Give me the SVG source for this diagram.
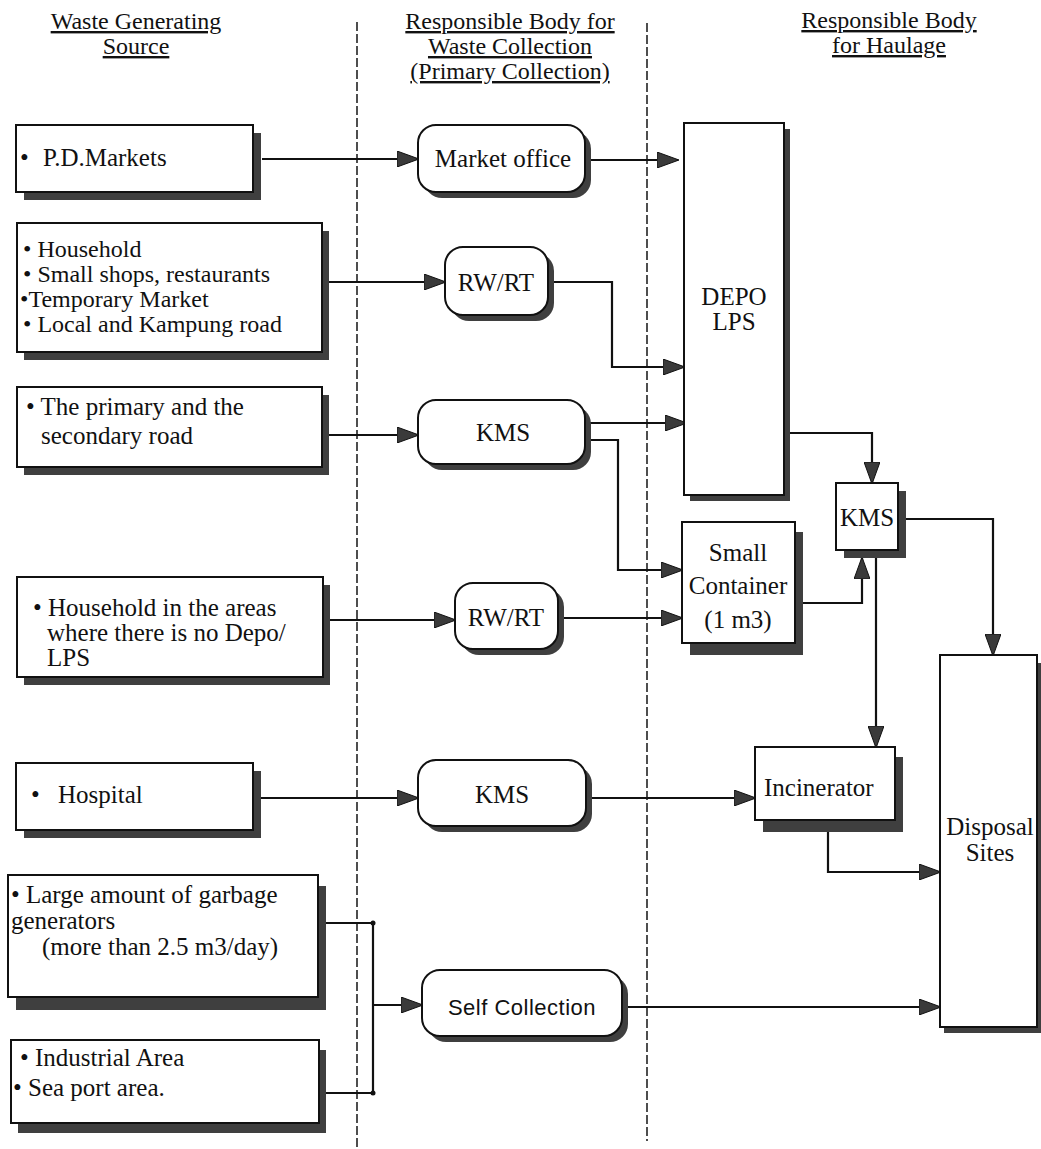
<svg xmlns="http://www.w3.org/2000/svg" width="1041" height="1149" viewBox="0 0 1041 1149">
<defs>
<style>
.t{font-family:"Liberation Serif","Times New Roman",serif;font-size:25px;fill:#111}
.s24{font-size:24px}
.h{font-family:"Liberation Serif","Times New Roman",serif;font-size:24px;fill:#111;text-decoration:underline;text-anchor:middle}
.c{text-anchor:middle}
.box{fill:#fff;stroke:#111;stroke-width:2}
.sh{fill:#3f3f3f}
.ln{fill:none;stroke:#111;stroke-width:2.2}
.dv{stroke:#222;stroke-width:1.6;stroke-dasharray:9 3;fill:none}
.sans{font-family:"Liberation Sans",Arial,sans-serif;font-size:22px;fill:#111;letter-spacing:0.5px}
.dot{fill:#111}
</style>
<marker id="ah" viewBox="0 0 22 16" markerWidth="22" markerHeight="16" refX="21" refY="8" orient="auto" markerUnits="userSpaceOnUse"><path d="M0,0 L22,8 L0,16 z" fill="#3a3a3a" stroke="#111" stroke-width="1"/></marker>
</defs>
<rect width="1041" height="1149" fill="#fff"/>

<g id="headers">
<text class="h" x="136" y="29">Waste Generating</text>
<text class="h" x="136" y="54">Source</text>
<text class="h" x="510" y="29">Responsible Body for</text>
<text class="h" x="510" y="54">Waste Collection</text>
<text class="h" x="510" y="79">(Primary Collection)</text>
<text class="h" x="889" y="28">Responsible Body</text>
<text class="h" x="889" y="53">for Haulage</text>
</g>

<g id="dividers">
<line class="dv" x1="357" y1="22" x2="357" y2="1149"/>
<line class="dv" x1="647" y1="23" x2="647" y2="1141"/>
</g>

<g id="connectors">
<path class="ln" marker-end="url(#ah)" d="M262,159 L418,159"/>
<path class="ln" marker-end="url(#ah)" d="M590,160 L678,160"/>
<path class="ln" marker-end="url(#ah)" d="M328,282 L445,282"/>
<path class="ln" marker-end="url(#ah)" d="M552,282 L612,282 L612,367 L684,367"/>
<path class="ln" marker-end="url(#ah)" d="M328,435 L418,435"/>
<path class="ln" marker-end="url(#ah)" d="M590,423 L686,423"/>
<path class="ln" marker-end="url(#ah)" d="M590,440 L618,440 L618,570 L682,570"/>
<path class="ln" marker-end="url(#ah)" d="M330,620 L455,620"/>
<path class="ln" marker-end="url(#ah)" d="M562,618 L682,618"/>
<path class="ln" marker-end="url(#ah)" d="M790,433 L872,433 L872,483"/>
<path class="ln" marker-end="url(#ah)" d="M803,603 L862,603 L862,558"/>
<path class="ln" marker-end="url(#ah)" d="M905,519 L993,519 L993,655"/>
<path class="ln" marker-end="url(#ah)" d="M876,558 L876,747"/>
<path class="ln" marker-end="url(#ah)" d="M261,798 L418,798"/>
<path class="ln" marker-end="url(#ah)" d="M592,798 L755,798"/>
<path class="ln" marker-end="url(#ah)" d="M828,832 L828,872 L940,872"/>
<path class="ln" d="M326,923 L373,923 L373,1093 L321,1093"/>
<circle class="dot" cx="373" cy="923" r="2.5"/>
<circle class="dot" cx="373" cy="1093" r="2.5"/>
<path class="ln" marker-end="url(#ah)" d="M373,1005 L422,1005"/>
<path class="ln" marker-end="url(#ah)" d="M628,1007 L940,1007"/>
</g>

<g id="pd-markets">
<rect class="sh" x="24" y="133" width="237" height="67"/>
<rect class="box" x="16" y="125" width="237" height="67"/>
<text class="t" x="20" y="166">•</text><text class="t" x="43" y="166">P.D.Markets</text>
</g>

<g id="household">
<rect class="sh" x="24" y="231" width="305" height="129"/>
<rect class="box" x="17" y="223" width="305" height="129"/>
<text class="t s24" x="23" y="257">• Household</text>
<text class="t s24" x="23" y="282">• Small shops, restaurants</text>
<text class="t s24" x="20" y="307">•Temporary Market</text>
<text class="t s24" x="23" y="332">• Local and Kampung road</text>
</g>

<g id="primary-road">
<rect class="sh" x="24" y="395" width="305" height="80"/>
<rect class="box" x="17" y="387" width="305" height="80"/>
<text class="t" x="26" y="415">• The primary and the</text>
<text class="t" x="41" y="444">secondary road</text>
</g>

<g id="no-depo">
<rect class="sh" x="24" y="585" width="306" height="100"/>
<rect class="box" x="17" y="577" width="306" height="100"/>
<text class="t" x="33" y="616">• Household in the areas</text>
<text class="t" x="47" y="641">where there is no Depo/</text>
<text class="t" x="47" y="666">LPS</text>
</g>

<g id="hospital">
<rect class="sh" x="24" y="771" width="237" height="67"/>
<rect class="box" x="16" y="763" width="237" height="67"/>
<text class="t" x="31" y="803">•</text><text class="t" x="58" y="803">Hospital</text>
</g>

<g id="large-generators">
<rect class="sh" x="16" y="886" width="310" height="124"/>
<rect class="box" x="8" y="875" width="310" height="122"/>
<text class="t" x="11" y="903">• Large amount of garbage</text>
<text class="t" x="11" y="929">generators</text>
<text class="t" x="42" y="955">(more than 2.5 m3/day)</text>
</g>

<g id="industrial">
<rect class="sh" x="18" y="1050" width="308" height="83"/>
<rect class="box" x="11" y="1040" width="308" height="83"/>
<text class="t" x="20" y="1066">• Industrial Area</text>
<text class="t" x="13" y="1096">• Sea port area.</text>
</g>

<g id="market-office">
<rect class="sh" x="424" y="131" width="167" height="67" rx="18"/>
<rect class="box" x="418" y="125" width="167" height="67" rx="18"/>
<text class="t c" x="503" y="167">Market office</text>
</g>

<g id="rwrt-1">
<rect class="sh" x="451" y="253" width="103" height="68" rx="18"/>
<rect class="box" x="445" y="247" width="103" height="68" rx="18"/>
<text class="t c" x="496" y="291">RW/RT</text>
</g>

<g id="kms-1">
<rect class="sh" x="424" y="406" width="167" height="64" rx="18"/>
<rect class="box" x="418" y="400" width="167" height="64" rx="18"/>
<text class="t c" x="503" y="441">KMS</text>
</g>

<g id="rwrt-2">
<rect class="sh" x="461" y="589" width="103" height="66" rx="18"/>
<rect class="box" x="455" y="583" width="103" height="66" rx="18"/>
<text class="t c" x="506" y="626">RW/RT</text>
</g>

<g id="kms-2">
<rect class="sh" x="424" y="766" width="168" height="66" rx="18"/>
<rect class="box" x="418" y="760" width="168" height="66" rx="18"/>
<text class="t c" x="502" y="803">KMS</text>
</g>

<g id="self-collection">
<rect class="sh" x="428" y="976" width="200" height="66" rx="18"/>
<rect class="box" x="422" y="970" width="200" height="66" rx="18"/>
<text class="sans c" x="522" y="1015">Self Collection</text>
</g>

<g id="depo-lps">
<rect class="sh" x="690" y="129" width="100" height="372"/>
<rect class="box" x="684" y="123" width="100" height="372"/>
<text class="t c" x="734" y="305">DEPO</text>
<text class="t c" x="734" y="330">LPS</text>
</g>

<g id="small-container">
<rect class="sh" x="690" y="532" width="113" height="123"/>
<rect class="box" x="682" y="522" width="113" height="121"/>
<text class="t c" x="738" y="561">Small</text>
<text class="t c" x="738" y="594">Container</text>
<text class="t c" x="738" y="628">(1 m3)</text>
</g>

<g id="kms-3">
<rect class="sh" x="844" y="491" width="62" height="67"/>
<rect class="box" x="836" y="483" width="62" height="67"/>
<text class="t c" x="867" y="526">KMS</text>
</g>

<g id="incinerator">
<rect class="sh" x="763" y="757" width="140" height="75"/>
<rect class="box" x="755" y="747" width="140" height="73"/>
<text class="t" x="764" y="796">Incinerator</text>
</g>

<g id="disposal-sites">
<rect class="sh" x="944" y="663" width="97" height="370"/>
<rect class="box" x="940" y="655" width="97" height="372"/>
<text class="t c" x="990" y="835">Disposal</text>
<text class="t c" x="990" y="861">Sites</text>
</g>
</svg>
